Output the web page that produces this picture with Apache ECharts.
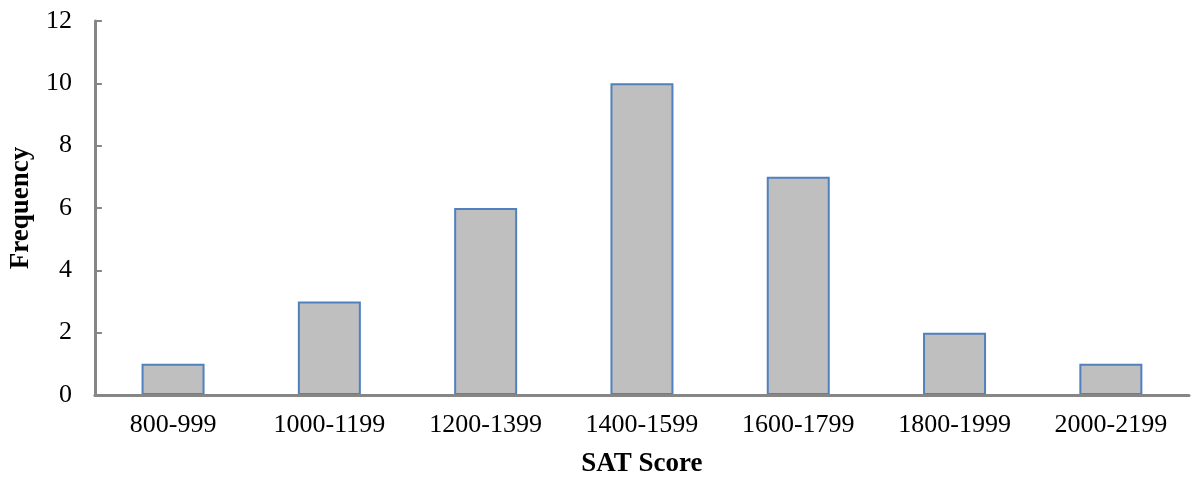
<!DOCTYPE html>
<html>
<head>
<meta charset="utf-8">
<script src="https://cdn.jsdelivr.net/npm/echarts@6/dist/echarts.min.js"></script>
<style>
html,body{margin:0;padding:0;background:#fff;}
#chart{width:1193px;height:483px;}
</style>
</head>
<body>
<div id="chart"></div>
<script>
const categories = ['800-999','1000-1199','1200-1399','1400-1599','1600-1799','1800-1999','2000-2199'];
const frequency = [1, 3, 6, 10, 7, 2, 1];
const xTitle = 'SAT Score';
const yTitle = 'Frequency';

const chart = echarts.init(document.getElementById('chart'), null, {renderer:'canvas'});
const font = '"Liberation Serif", "Times New Roman", serif';
chart.setOption({
  animation: false,
  backgroundColor: '#ffffff',
  grid: {left: 91, right: 4, top: 21, bottom: 85, containLabel: false},
  xAxis: {
    type: 'category',
    data: categories,
    z: 5,
    name: xTitle,
    nameLocation: 'middle',
    nameGap: 56,
    nameTextStyle: {fontFamily: font, fontSize: 27, fontWeight: 'bold', color: '#000', verticalAlign: 'top'},
    axisLine: {lineStyle: {color: '#868686', width: 3}},
    axisTick: {show: false},
    axisLabel: {fontFamily: font, fontSize: 26, color: '#000', margin: 17},
    splitLine: {show: false}
  },
  yAxis: {
    type: 'value',
    min: 0, max: 12, interval: 2,
    z: 5,
    name: yTitle,
    nameLocation: 'middle',
    nameGap: 57,
    nameTextStyle: {fontFamily: font, fontSize: 27, fontWeight: 'bold', color: '#000'},
    axisLine: {show: true, lineStyle: {color: '#868686', width: 3}},
    axisTick: {show: true, inside: true, length: 7, lineStyle: {color: '#868686', width: 2}},
    axisLabel: {fontFamily: font, fontSize: 26, color: '#000', margin: 23},
    splitLine: {show: false}
  },
  series: [{
    type: 'bar',
    data: frequency,
    barWidth: 63,
    itemStyle: {color: '#BFBFBF', borderColor: '#4F81BD', borderWidth: 2}
  }]
});
</script>
</body>
</html>
